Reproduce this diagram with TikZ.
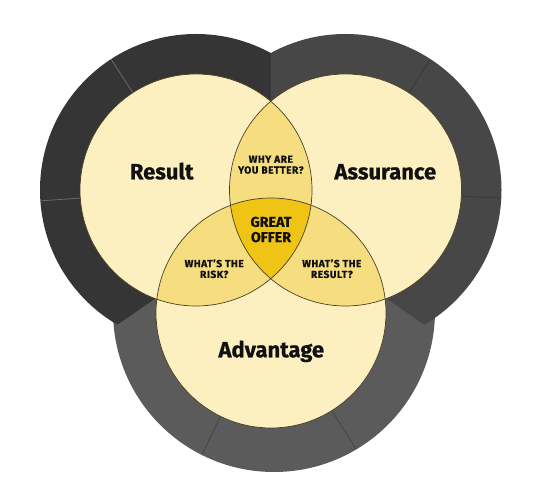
\documentclass[tikz,border=0pt]{standalone}
\usepackage{fontspec}
\setmainfont{Fira Sans}
\usetikzlibrary{calc}
\definecolor{ringL}{HTML}{353535}
\definecolor{ringR}{HTML}{474747}
\definecolor{ringB}{HTML}{5B5B5B}
\definecolor{divL}{HTML}{6A6A6A}
\definecolor{divR}{HTML}{383838}
\definecolor{divB}{HTML}{444444}
\definecolor{cream}{HTML}{FCF0C1}
\definecolor{lens}{HTML}{F5DD80}
\definecolor{core}{HTML}{F0C414}
\definecolor{edgecol}{HTML}{4A4026}
\definecolor{ink}{HTML}{111111}
\tikzset{
  bigtxt/.style={font=\fontsize{22}{26}\selectfont\bfseries\addfontfeatures{FakeBold=0.7}, text=ink, inner sep=0pt},
  smalltxt/.style={font=\fontsize{10.2}{10.8}\selectfont\bfseries\addfontfeatures{LetterSpace=5,FakeBold=0.8}, align=center, text=ink, inner sep=0pt},
  midtxt/.style={font=\fontsize{14.3}{15.2}\selectfont\bfseries\addfontfeatures{FakeBold=0.7}, align=center, text=ink, inner sep=0pt},
  ringdiv/.style={line width=0.8pt},
  venn/.style={draw=edgecol, line width=0.7pt}
}
\begin{document}
\begin{tikzpicture}[x=1pt,y=1pt]
\useasboundingbox (0,0) rectangle (540,502);
\fill[white] (0,0) rectangle (540,502);
\coordinate (L) at (196,312);
\coordinate (R) at (345.5,312);
\coordinate (B) at (271,189);
\coordinate (Bo) at (274,191);
\coordinate (TI) at (270.75,400.7);
\coordinate (LI) at (156,204);
\coordinate (RI) at (385.5,204);
\coordinate (M) at (270.75,260);
% outer rings
\fill[ringB] (Bo) circle[radius=161pt];
\begin{scope}
  \clip (270.75,620) -- (TI) -- (M) -- (LI) -- (-54,59) -- (-60,620) -- cycle;
  \fill[ringL] (L) circle[radius=156pt];
\end{scope}
\begin{scope}
  \clip (270.75,620) -- (TI) -- (M) -- (RI) -- (595.5,59) -- (600,620) -- cycle;
  \fill[ringR] (R) circle[radius=156pt];
\end{scope}
% ring dividers
\draw[ringdiv, divL] ($(L)+(123:100pt)$) -- ($(L)+(123:155.5pt)$);
\draw[ringdiv, divL] ($(L)+(184:100pt)$) -- ($(L)+(184:155.5pt)$);
\draw[ringdiv, divR] ($(R)+(57:100pt)$) -- ($(R)+(57:155.5pt)$);
\draw[ringdiv, divR] ($(R)+(-3:100pt)$) -- ($(R)+(-3:155.5pt)$);
\draw[ringdiv, divB] ($(B)+(244:100pt)$) -- ($(B)+(244:157.5pt)$);
\draw[ringdiv, divB] ($(B)+(302:100pt)$) -- ($(B)+(302:160.5pt)$);
% venn circles
\fill[cream] (L) circle[radius=116pt];
\fill[cream] (R) circle[radius=116pt];
\fill[cream] (B) circle[radius=115pt];
\begin{scope}
  \clip (L) circle[radius=116pt];
  \fill[lens] (R) circle[radius=116pt];
  \fill[lens] (B) circle[radius=115pt];
\end{scope}
\begin{scope}
  \clip (R) circle[radius=116pt];
  \fill[lens] (B) circle[radius=115pt];
\end{scope}
\begin{scope}
  \clip (L) circle[radius=116pt];
  \clip (R) circle[radius=116pt];
  \fill[core] (B) circle[radius=115pt];
\end{scope}
\draw[venn] (L) circle[radius=116pt];
\draw[venn] (R) circle[radius=116pt];
\draw[venn] (B) circle[radius=115pt];
% labels
\node[bigtxt, anchor=base] (tRes) at (161.7,322.7) {Result};
\node[bigtxt, anchor=base] (tAss) at (385.3,322.7) {Assurance};
\node[bigtxt, anchor=base] (tAdv) at (271.3,144.7) {Advantage};
\node[smalltxt] (tWhy) at (270.8,337.3) {WHY ARE\\YOU BETTER?};
\node[midtxt] (tGreat) at (271,272.5) {GREAT\\OFFER};
\node[smalltxt] (tRisk) at (214.2,233.3) {WHAT’S THE\\RISK?};
\node[smalltxt] (tResq) at (331.8,233.3) {WHAT’S THE\\RESULT?};
\end{tikzpicture}
\end{document}
